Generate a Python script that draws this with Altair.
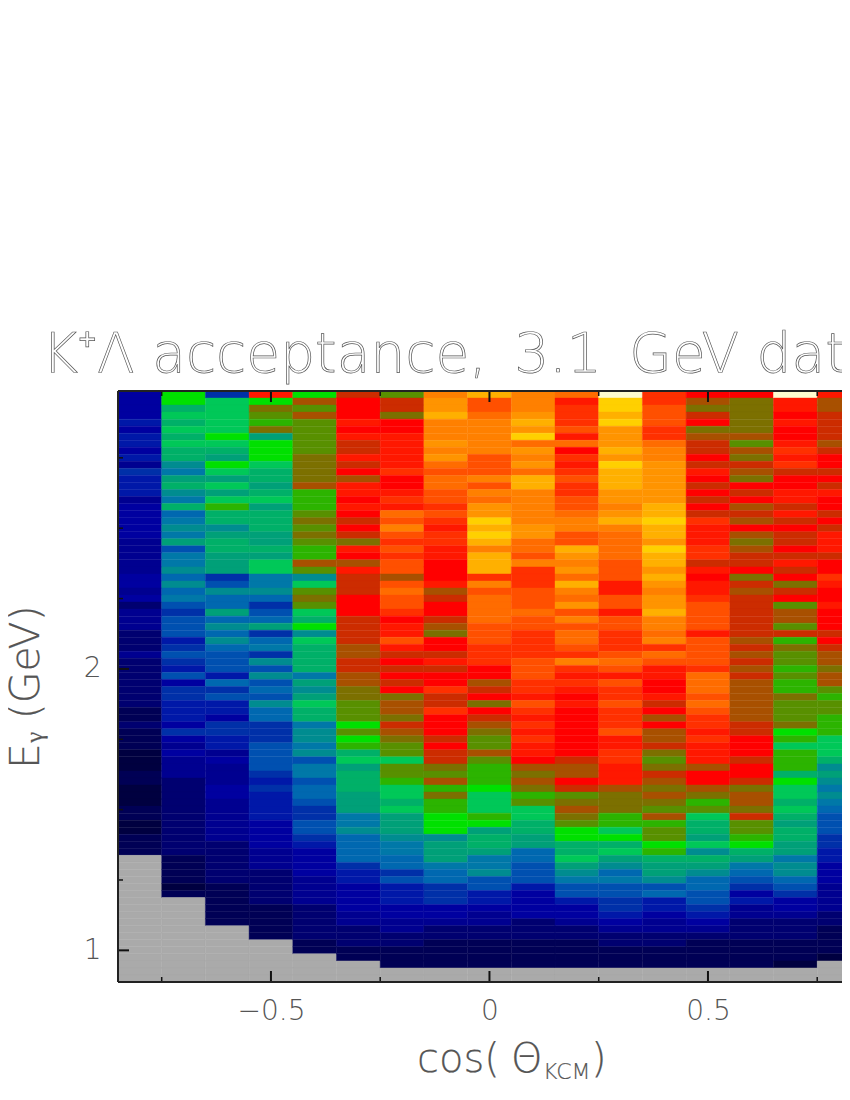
import altair as alt
import pandas as pd

TITLE = "K⁺Λ acceptance,\u20023.1\u2002GeV data"
PALETTE = ["#aaaaaa", "#000040", "#000055", "#000070", "#000090", "#0000a0", "#0018a8", "#0030a8",
           "#0050b0", "#0068b0", "#0078a8", "#008c90", "#00a078", "#00b068", "#00c858", "#00e000",
           "#2cb400", "#589000", "#7c7000", "#a85000", "#cc2c00", "#ff0000", "#ff1800", "#ff3000",
           "#ff5000", "#ff6c00", "#ff8000", "#ff9400", "#ffb000", "#ffd000", "#fffcd0"]

# Colour level of each energy bin, top row first; one list per cos(theta) column (level 0 = no data)
c00 = [5,5,5,5,6,5,6,6,5,6,4,7,6,6,6,4,5,5,5,5,5,4,4,4,4,4,5,5, 4,5,3,4,4,4,3,3,3,4,3,3,3,3,3,3,3,2,2,3,2,2,2,1,1,1,2,2, 1,1,1,2,2,1,1,2,2,2,0,0,0,0,0,0,0,0,0,0,0,0,0,0,0,0,0,0]
c01 = [15,15,13,14,13,14,13,14,13,13,11,10,12,13,11,10,13,9,10,11,10,12,8,10,10,11,9,11, 9,10,8,7,8,8,8,6,7,8,7,6,8,5,7,7,6,6,6,5,7,5,4,5,4,4,4,3, 3,3,3,3,3,3,3,3,3,3,2,2,2,2,1,2,0,0,0,0,0,0,0,0,0,0,0,0]
c02 = [7,14,14,14,14,14,15,14,13,12,15,14,12,14,12,14,16,13,13,11,12,13,13,12,12,12,7,8, 11,9,9,12,9,11,9,11,9,8,8,8,6,9,7,8,6,6,5,7,7,6,6,4,5,4,4,4, 5,5,4,4,4,4,4,4,3,3,3,3,3,3,2,2,2,2,2,2,0,0,0,0,0,0,0,0]
c03 = [22,15,18,17,16,18,12,15,15,15,14,13,13,12,13,14,12,13,13,13,12,12,13,12,14,14,10,10, 11,9,7,8,9,12,7,9,10,7,11,8,11,8,9,8,11,9,9,7,7,7,8,8,8,8,7,6, 7,6,6,6,6,5,5,5,5,4,4,4,3,3,3,3,3,2,2,2,2,2,0,0,0,0,0,0]
c04 = [15,19,17,19,17,17,17,17,17,18,18,18,18,19,16,16,16,17,18,17,18,17,16,16,19,17,11,14, 17,18,17,14,13,15,11,14,13,13,13,13,10,12,11,12,14,13,13,10,11,11,10,11,8,10,10,8, 9,9,8,7,7,8,8,7,6,5,5,5,5,4,4,4,4,3,3,3,3,3,2,2,0,0,0,0]
c05 = [20,21,21,21,22,21,22,20,20,22,20,21,19,22,22,21,22,21,20,21,20,18,22,21,19,22,20,20, 20,21,21,21,20,20,20,20,19,19,20,20,19,19,18,18,17,17,17,15,17,15,16,13,14,12,13,13, 13,12,12,12,10,10,11,9,9,9,9,7,6,6,5,5,5,5,4,4,3,3,3,2,2,0,0,0]
c06 = [17,20,20,18,21,21,22,22,22,22,22,23,21,21,22,23,22,25,24,26,24,23,24,23,24,24,19,24, 25,24,24,23,21,22,22,24,22,20,21,20,21,20,21,18,19,19,18,20,19,18,17,17,14,17,17,16, 14,14,13,14,12,12,12,11,10,10,9,9,7,8,6,6,6,5,5,4,4,3,3,2,2,2,0,0]
c07 = [26,27,27,28,26,26,26,27,26,27,25,24,25,25,24,24,23,24,23,22,23,23,22,22,21,21,21,22, 19,20,21,21,20,19,18,21,21,20,22,20,21,21,23,20,20,23,21,21,21,20,21,20,20,18,17,19, 16,18,16,16,15,15,15,11,12,12,12,10,9,9,7,7,7,5,5,4,3,3,2,2,2,2,0,0]
c08 = [28,24,24,25,26,26,26,26,26,24,24,24,26,24,26,25,27,27,29,28,29,28,26,28,28,28,23,26, 24,25,25,25,25,24,24,24,23,23,23,21,21,19,20,21,18,21,20,19,18,17,17,19,17,16,16,16, 15,14,14,14,16,15,12,13,13,12,10,10,11,8,8,6,6,5,4,4,3,3,2,2,2,2,0,0]
c09 = [26,26,26,27,28,27,29,25,27,26,27,25,28,28,26,26,26,26,26,27,27,25,25,24,26,23,23,23, 24,24,24,25,24,24,23,23,23,23,24,24,24,23,23,22,24,23,22,23,22,23,22,22,21,19,18,19, 18,16,17,14,14,13,13,12,12,9,9,8,8,8,6,5,5,5,5,3,3,3,2,2,2,2,0,0]
c10 = [25,22,23,23,23,24,22,25,21,23,22,23,24,23,23,24,24,25,26,26,24,24,28,27,26,27,25,28, 26,25,27,24,26,24,25,25,24,23,26,23,22,23,22,21,22,21,21,21,21,21,21,21,20,19,19,21, 20,17,18,19,18,17,15,15,13,13,14,12,11,10,8,8,6,5,5,4,3,3,2,2,2,2,0,0]
c11 = [30,29,29,28,29,27,27,27,28,27,29,28,28,28,27,27,26,27,28,26,25,25,25,25,24,24,24,22, 22,24,24,22,24,24,23,23,23,24,25,24,22,24,23,23,24,23,23,23,24,22,22,23,23,22,22,22, 19,18,18,18,16,16,14,15,13,14,12,11,9,10,8,8,7,7,6,5,4,3,3,2,2,2,0,0]
c12 = [23,23,24,24,24,23,23,25,26,26,27,27,27,27,27,27,28,28,29,28,28,27,29,28,28,27,28,27, 26,27,27,28,26,26,25,26,23,25,24,22,22,21,21,22,20,21,19,21,19,19,20,18,17,18,20,19, 18,19,18,17,19,16,17,17,15,16,13,12,12,11,8,9,6,6,5,4,4,3,3,2,2,2,0,0]
c13 = [21,19,18,20,21,18,19,20,20,21,20,22,21,20,21,20,21,20,23,22,22,22,23,23,20,22,21,22, 22,23,24,24,24,24,22,24,24,24,24,23,25,25,25,24,25,24,23,23,22,23,22,22,22,19,21,21, 19,18,16,17,14,13,13,12,14,11,13,12,11,9,9,8,8,7,6,5,4,3,2,2,2,2,0,0]
c14 = [21,18,18,18,18,18,19,17,19,18,20,19,18,21,20,21,19,20,19,21,19,18,19,20,20,21,18,20, 19,20,20,20,20,20,20,19,20,19,20,19,20,19,19,19,19,19,19,20,20,21,21,21,20,21,21,20, 18,19,19,18,20,17,17,16,15,13,12,10,9,8,7,5,6,4,4,3,3,3,2,2,2,2,0,0]
c15 = [30,22,22,21,22,21,21,22,23,22,23,20,21,21,22,22,20,22,20,21,20,20,21,20,22,20,21,18, 20,21,17,19,19,17,20,16,18,17,17,16,17,16,16,18,17,17,17,18,15,16,14,16,16,16,13,15, 14,14,13,14,13,12,13,13,12,12,10,11,11,9,8,7,5,5,4,3,3,3,2,2,2,1,0,0]
c16 = [22,19,19,20,20,20,20,19,20,21,21,20,21,20,22,21,21,20,21,20,22,22,22,20,21,21,23,22, 21,21,22,21,21,21,20,21,20,19,19,18,19,19,17,16,17,17,16,16,16,14,14,14,13,11,12,11, 10,11,10,9,8,8,8,7,7,6,6,5,5,5,4,4,4,4,3,3,2,2,2,2,1,0,0,0]
COLUMNS = [c00, c01, c02, c03, c04, c05, c06, c07, c08, c09, c10, c11, c12, c13, c14, c15, c16]

X_START = -0.85
X_END = 0.8067   # the sheet is cut off here by the page's right edge
Y_DOMAIN = [0.8875, 2.9875]
X_BIN = 0.1
Y_BIN = 0.025
X_LABELS = [-0.5, 0, 0.5]
Y_LABELS = [1, 2]
X_MINOR = [-0.75, -0.25, 0.25, 0.75]
Y_MINOR = [1.25, 1.5, 1.75, 2.25, 2.5, 2.75]

W, H = 724, 591
INK = "#555555"
FONT = "DejaVu Sans"

rows = []
for c, col in enumerate(COLUMNS):
    for r, lv in enumerate(col):
        rows.append({"x": X_START + c * X_BIN, "x2": X_START + (c + 1) * X_BIN,
                     "y": Y_DOMAIN[1] - (r + 1) * Y_BIN, "y2": Y_DOMAIN[1] - r * Y_BIN, "level": lv})
df = pd.DataFrame(rows)

xs = alt.Scale(domain=[X_START, X_END], nice=False, zero=False)
ys = alt.Scale(domain=Y_DOMAIN, nice=False, zero=False)
cs = alt.Scale(domain=list(range(len(PALETTE))), range=PALETTE)

heat = alt.Chart(df).mark_rect(clip=True, strokeWidth=0.4).encode(
    x=alt.X("x:Q", scale=xs, title=None,
            axis=alt.Axis(values=X_LABELS, domain=False, ticks=False, grid=False, labelFont=FONT,
                          labelFontSize=28, labelFontWeight=200, labelColor=INK, labelPadding=15,
                          labelExpr="replace(format(datum.value, ''), '-', '−')")),
    x2="x2:Q",
    y=alt.Y("y:Q", scale=ys, title=None,
            axis=alt.Axis(values=Y_LABELS, domain=False, ticks=False, grid=False, labelFont=FONT,
                          labelFontSize=28, labelFontWeight=200, labelColor=INK, labelPadding=17,
                          format=".0f")),
    y2="y2:Q",
    color=alt.Color("level:O", scale=cs, legend=None),
    stroke=alt.Stroke("level:O", scale=cs, legend=None),
)

def xticks(vals, length, width):
    d = pd.DataFrame({"v": vals})
    bottom = alt.Chart(d).mark_rule(color="#111111", strokeWidth=width).encode(
        x=alt.X("v:Q", scale=xs), y=alt.value(H), y2=alt.value(H - length))
    top = alt.Chart(d).mark_rule(color="#111111", strokeWidth=width).encode(
        x=alt.X("v:Q", scale=xs), y=alt.value(0), y2=alt.value(length))
    return bottom + top

def yticks(vals, length, width):
    d = pd.DataFrame({"v": vals})
    return alt.Chart(d).mark_rule(color="#111111", strokeWidth=width).encode(
        y=alt.Y("v:Q", scale=ys), x=alt.value(0), x2=alt.value(length))

def frame(**enc):
    return alt.Chart(pd.DataFrame({"a": [0]})).mark_rule(color="#222222", strokeWidth=2).encode(**enc)

frames = (frame(x=alt.value(0), x2=alt.value(W), y=alt.value(0))
          + frame(x=alt.value(0), x2=alt.value(W), y=alt.value(H))
          + frame(x=alt.value(0), y=alt.value(0), y2=alt.value(H)))

def label(text, px, py, size, angle=0, align="left", hollow=False):
    return alt.Chart(pd.DataFrame({"t": [text]})).mark_text(
        font=FONT, fontSize=size, fontWeight=200, align=align, baseline="alphabetic", angle=angle,
        fill="#ffffff" if hollow else INK, stroke=INK, strokeWidth=0.7 if hollow else 0.2,
    ).encode(text="t:N", x=alt.value(px), y=alt.value(py))

texts = (label(TITLE, -76, -19, 55, hollow=True)
         + label("Eᵧ (GeV)", -79, 769 - 391, 41, angle=270)
         + label("cos(", 417 - 118, 1072 - 391, 40)
         + label("Θ", 511 - 118, 1072 - 391, 40)
         + label("KCM", 543 - 118, 1079 - 391, 22)
         + label(")", 591 - 118, 1072 - 391, 40))

chart = alt.layer(heat, xticks(X_LABELS, 11, 2), xticks(X_MINOR, 5, 1.5),
                  yticks(Y_LABELS, 11, 2), yticks(Y_MINOR, 5, 1.5), frames, texts).properties(
    width=W, height=H,
    autosize=alt.AutoSizeParams(type="none"),
    padding={"left": 110, "top": 383, "right": 0, "bottom": 100},
).configure_view(stroke=None)

chart.save("out.html", embed_options={"renderer": "svg", "actions": False})
